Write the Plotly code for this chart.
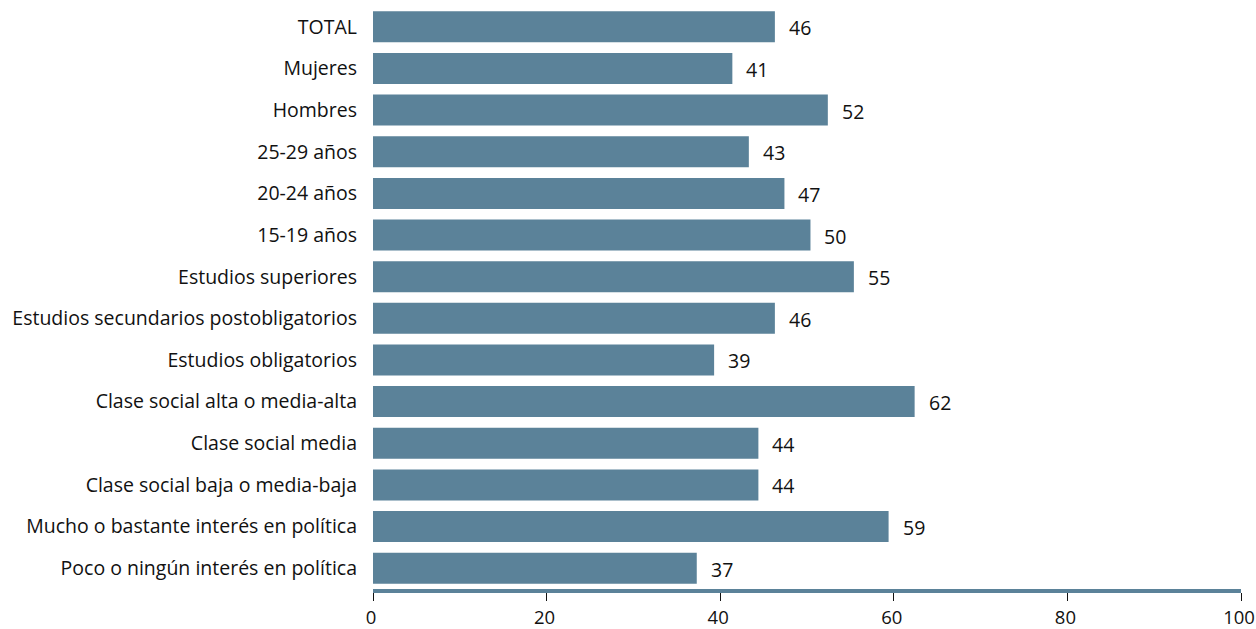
import plotly.graph_objects as go

categories = [
    "TOTAL", "Mujeres", "Hombres", "25-29 años", "20-24 años", "15-19 años",
    "Estudios superiores", "Estudios secundarios postobligatorios",
    "Estudios obligatorios", "Clase social alta o media-alta",
    "Clase social media", "Clase social baja o media-baja",
    "Mucho o bastante interés en política", "Poco o ningún interés en política",
]
values = [46.3, 41.4, 52.4, 43.3, 47.4, 50.4, 55.4, 46.3, 39.3, 62.4, 44.4, 44.4, 59.4, 37.3]
x_ticks = [0, 20, 40, 60, 80, 100]

BAR = "#5b8299"
FONT = "Open Sans"
FS = 19.5

fig = go.Figure(go.Bar(
    y=categories, x=values, orientation="h",
    marker=dict(color=BAR, line=dict(width=0)),
    hoverinfo="skip",
))

for c, v in zip(categories, values):
    fig.add_annotation(x=v, y=c, text=f"{v:.0f}", showarrow=False,
                       xanchor="left", xshift=12, yshift=-1,
                       font=dict(family=FONT, size=FS, color="#111111"))

fig.update_layout(
    width=1256, height=629,
    margin=dict(l=373, r=15, t=6, b=40, autoexpand=False),
    paper_bgcolor="white", plot_bgcolor="white",
    bargap=0.256, showlegend=False,
    font=dict(family=FONT, size=FS, color="#111111"),
)
fig.update_yaxes(autorange="reversed", showgrid=False, zeroline=False,
                 ticks="", ticklabelstandoff=15, automargin=False,
                 tickfont=dict(family=FONT, size=FS, color="#111111"))
fig.update_xaxes(range=[0, 100], tickvals=x_ticks, showgrid=False, zeroline=False,
                 showline=True, linewidth=4, linecolor=BAR,
                 ticks="outside", ticklen=8, tickwidth=1, tickcolor="#111111",
                 ticklabelstandoff=1,
                 automargin=False, ticklabeloverflow="allow", ticklabelshift=-2,
                 tickfont=dict(family=FONT, size=18.5, color="#111111"))

fig.write_html("out.html", config={"displayModeBar": False},
               post_script="document.body.style.margin='0';document.body.style.overflow='hidden';")
